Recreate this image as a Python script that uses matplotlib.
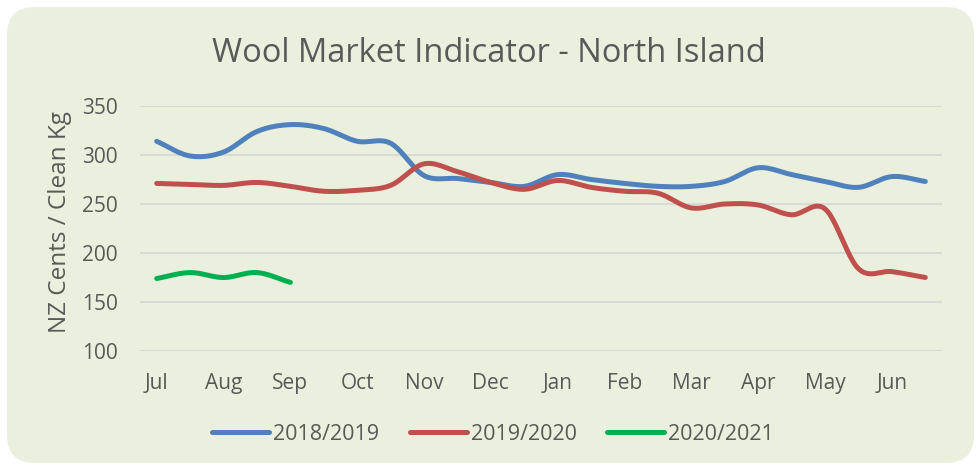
import numpy as np
import matplotlib
matplotlib.use("Agg")
import matplotlib.pyplot as plt
from matplotlib.patches import FancyBboxPatch
from matplotlib.transforms import IdentityTransform

plt.rcParams['font.family'] = ['Open Sans', 'DejaVu Sans']

# half-month sample points, Jul .. Jun
months = ['Jul', 'Aug', 'Sep', 'Oct', 'Nov', 'Dec',
          'Jan', 'Feb', 'Mar', 'Apr', 'May', 'Jun']
s2018 = [314, 299, 303, 324, 331, 327, 314, 312, 279, 276, 272, 268,
         280, 275, 271, 268, 268, 273, 287, 280, 273, 267, 278, 273]
s2019 = [271, 270, 269, 272, 268, 263, 264, 269, 291, 283, 272, 265,
         274, 267, 263, 261, 246, 250, 249, 239, 245, 184, 181, 175]
s2020 = [174, 180, 175, 180, 170]
series_names = ['2018/2019', '2019/2020', '2020/2021']
colors = ['#4F81BD', '#C0504D', '#00B050']
grey = '#595959'


def smooth(y, n=24):
    # catmull-rom curve through the points, like excel's smoothed line
    y = np.asarray(y, float)
    x = np.arange(len(y), dtype=float)
    px = np.concatenate([[2 * x[0] - x[1]], x, [2 * x[-1] - x[-2]]])
    py = np.concatenate([[2 * y[0] - y[1]], y, [2 * y[-1] - y[-2]]])
    xs, ys = [], []
    t = np.linspace(0, 1, n, endpoint=False)
    for i in range(1, len(px) - 2):
        for p, out in ((px, xs), (py, ys)):
            p0, p1, p2, p3 = p[i - 1], p[i], p[i + 1], p[i + 2]
            out.append(0.5 * (2 * p1 + (-p0 + p2) * t
                              + (2 * p0 - 5 * p1 + 4 * p2 - p3) * t ** 2
                              + (-p0 + 3 * p1 - 3 * p2 + p3) * t ** 3))
    xs.append([x[-1]])
    ys.append([y[-1]])
    return np.concatenate(xs), np.concatenate(ys)


fig = plt.figure(figsize=(9.78, 4.66), dpi=100)
fig.patch.set_facecolor('white')
bg = FancyBboxPatch((7, 3), 967, 456, boxstyle="round,pad=0,rounding_size=28",
                    transform=IdentityTransform(), facecolor='#EBF0DE',
                    edgecolor='none', zorder=-10)
fig.patches.append(bg)

ax = fig.add_axes([140 / 978, 1 - 351 / 466, 802 / 978, 245 / 466])
ax.set_facecolor('none')

for data, name, c in zip([s2018, s2019, s2020], series_names, colors):
    xs, ys = smooth(data)
    ax.plot(xs, ys, color=c, lw=3.6, solid_capstyle='round', label=name, zorder=3)

ax.set_xlim(-0.5, 23.5)
ax.set_ylim(100, 350)
ax.set_yticks(range(100, 351, 50))
ax.set_xticks(range(0, 24, 2))
ax.set_xticklabels(months)
ax.grid(axis='y', color='#D9D9D9', lw=1.5, zorder=0)
ax.set_axisbelow(True)
for sp in ax.spines.values():
    sp.set_visible(False)
ax.tick_params(length=0, labelsize=15, labelcolor=grey)
ax.tick_params(axis='x', pad=16)
ax.tick_params(axis='y', pad=16)

fig.text(60 / 978, 1 - 222.5 / 466, 'NZ Cents / Clean Kg', rotation=90,
         ha='center', va='center', fontsize=17.5, color=grey)
fig.text(489 / 978, 1 - 53 / 466, 'Wool Market Indicator - North Island',
         ha='center', va='center', fontsize=23.5, color=grey)

leg = fig.legend(loc='center', bbox_to_anchor=(493 / 978, 1 - 434 / 466), ncol=3,
                 frameon=False, fontsize=15.5, handlelength=2.65, handletextpad=0.2,
                 columnspacing=1.4)
for t in leg.get_texts():
    t.set_color(grey)

fig.savefig('out.png', dpi=100)
